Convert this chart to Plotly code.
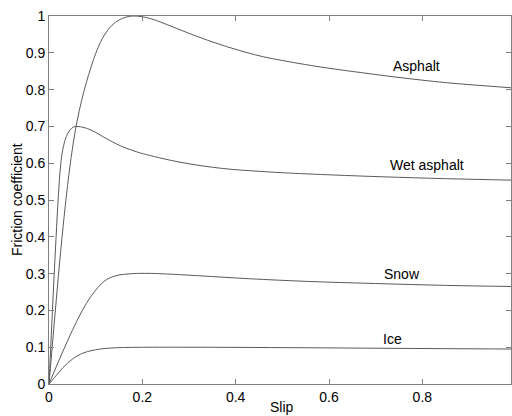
import plotly.graph_objects as go

# Slip / friction coefficient values
asphalt_s = [0, 0.01, 0.02, 0.03, 0.04, 0.05, 0.06, 0.07, 0.08, 0.09, 0.1, 0.11, 0.12,
             0.135, 0.15, 0.165, 0.18, 0.2, 0.22, 0.24, 0.27, 0.3, 0.34, 0.38, 0.42,
             0.46, 0.5, 0.55, 0.6, 0.67, 0.75, 0.85, 0.99]
asphalt_mu = [0, 0.147, 0.292, 0.425, 0.542, 0.638, 0.713, 0.771, 0.819, 0.861, 0.898,
              0.928, 0.951, 0.975, 0.989, 0.997, 1.0, 0.998, 0.992, 0.983, 0.968, 0.953,
              0.934, 0.917, 0.902, 0.889, 0.879, 0.868, 0.858, 0.846, 0.833, 0.819, 0.805]

wet_s = [0, 0.005, 0.01, 0.015, 0.02, 0.025, 0.03, 0.037, 0.045, 0.052, 0.06, 0.075,
         0.09, 0.105, 0.124, 0.145, 0.165, 0.19, 0.216, 0.26, 0.302, 0.35, 0.394, 0.45,
         0.502, 0.609, 0.716, 0.85, 0.99]
wet_mu = [0, 0.135, 0.27, 0.395, 0.51, 0.595, 0.64, 0.672, 0.69, 0.698, 0.700, 0.697,
          0.69, 0.68, 0.666, 0.652, 0.641, 0.63, 0.621, 0.608, 0.598, 0.589, 0.583, 0.578,
          0.574, 0.568, 0.563, 0.558, 0.554]

snow_s = [0, 0.02, 0.04, 0.06, 0.08, 0.1, 0.12, 0.14, 0.16, 0.19, 0.22, 0.252, 0.323,
          0.43, 0.55, 0.7, 0.85, 0.99]
snow_mu = [0, 0.06, 0.118, 0.172, 0.219, 0.255, 0.281, 0.293, 0.298, 0.3005, 0.3005,
           0.299, 0.294, 0.286, 0.279, 0.273, 0.268, 0.265]

ice_s = [0, 0.01, 0.02, 0.03, 0.04, 0.05, 0.06, 0.075, 0.09, 0.11, 0.13, 0.16, 0.2,
         0.25, 0.35, 0.45, 0.55, 0.7, 0.85, 0.99]
ice_mu = [0, 0.015, 0.03, 0.0445, 0.057, 0.0675, 0.076, 0.085, 0.0905, 0.095, 0.0975,
          0.0992, 0.0998, 0.1, 0.0998, 0.0992, 0.0985, 0.0972, 0.096, 0.095]

labels = ["Asphalt", "Wet asphalt", "Snow", "Ice"]
label_x = [0.787, 0.81, 0.756, 0.735]
label_y = [0.865, 0.595, 0.299, 0.122]

x_ticks = [0, 0.2, 0.4, 0.6, 0.8]
x_tick_text = ["0", "0.2", "0.4", "0.6", "0.8"]
y_ticks = [0, 0.1, 0.2, 0.3, 0.4, 0.5, 0.6, 0.7, 0.8, 0.9, 1]
y_tick_text = ["0", "0.1", "0.2", "0.3", "0.4", "0.5", "0.6", "0.7", "0.8", "0.9", "1"]

x_title = "Slip"
y_title = "Friction coefficient"

FONT = "Liberation Sans, Arial, sans-serif"
LINE_COLOR = "#5a5a5a"

fig = go.Figure()
for s, mu in [(asphalt_s, asphalt_mu), (wet_s, wet_mu), (snow_s, snow_mu), (ice_s, ice_mu)]:
    fig.add_trace(go.Scatter(x=s, y=mu, mode="lines",
                             line=dict(color=LINE_COLOR, width=1, shape="spline", smoothing=1.0),
                             showlegend=False, hoverinfo="skip"))

for t, x, y in zip(labels, label_x, label_y):
    fig.add_annotation(x=x, y=y, text=t, showarrow=False, xref="x", yref="y",
                       font=dict(family=FONT, size=14, color="black"))

# axis titles placed as annotations relative to the plot area
fig.add_annotation(x=0.5, y=0, xref="paper", yref="paper", text=x_title, showarrow=False,
                   yanchor="middle", yshift=-23, xshift=2,
                   font=dict(family=FONT, size=14, color="black"))
fig.add_annotation(x=0, y=0.5, xref="paper", yref="paper", text=y_title, showarrow=False,
                   textangle=-90, xanchor="center", xshift=-32,
                   font=dict(family=FONT, size=14, color="black"))

fig.update_layout(
    width=512, height=416,
    margin=dict(l=49, r=1, t=16, b=32),
    paper_bgcolor="white", plot_bgcolor="white",
    font=dict(family=FONT, size=14, color="black"),
)
fig.update_xaxes(range=[0, 0.99], tickvals=x_ticks, ticktext=x_tick_text, automargin=False,
                 ticks="inside", ticklen=5, tickcolor="#808080", showline=True, linecolor="#808080",
                 linewidth=1, mirror="ticks", showgrid=False, zeroline=False)
fig.update_yaxes(range=[0, 1], tickvals=y_ticks, ticktext=y_tick_text, automargin=False,
                 ticks="inside", ticklen=5, tickcolor="#808080", showline=True, linecolor="#808080",
                 linewidth=1, mirror="ticks", showgrid=False, zeroline=False)

fig.write_html("out.html")
